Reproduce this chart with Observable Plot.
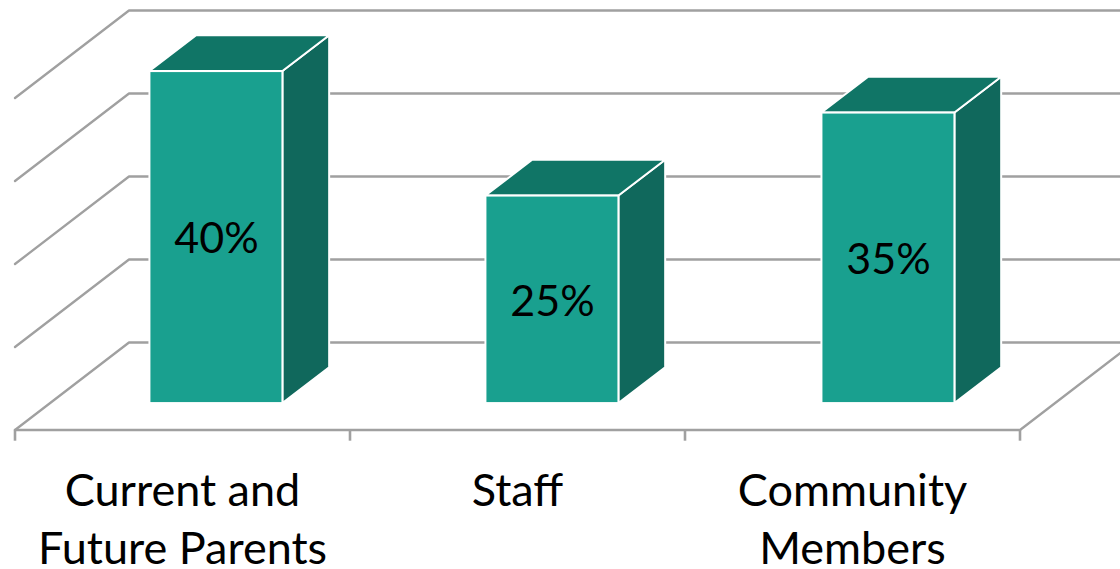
<!DOCTYPE html>
<html>
<head>
<meta charset="utf-8">
<script src="https://cdn.jsdelivr.net/npm/d3@7"></script>
<script src="https://cdn.jsdelivr.net/npm/@observablehq/plot@0.6"></script>
<style>
html,body{margin:0;padding:0;background:#fff;overflow:hidden}
svg{display:block}
</style>
</head>
<body>
<div id="chart"></div>
<script>
const categories = ["Current and\nFuture Parents", "Staff", "Community\nMembers"];
const values = [40, 25, 35];
const valueLabels = ["40%", "25%", "35%"];
const gridLevels = [0, 10, 20, 30, 40];
const categoryEdges = [0, 1, 2, 3];

// oblique projection of the chart box: depth 0 = front, depth 1 = back wall
const depthX = 0.3403, depthY = 10.54;
const barStep = 1.003, barLeft = 0.3, barWidth = 0.397, barFront = 0.302, barDepth = 0.41;
const px = (x, d) => x + d * depthX;
const py = (v, d) => v + d * depthY;

const gridLines = gridLevels.flatMap((v) => [
  {z: v, x: px(0, 0), y: py(v, 0)},
  {z: v, x: px(0, 1), y: py(v, 1)},
  {z: v, x: px(3, 1), y: py(v, 1)}
]);
const floorRight = [
  {x: px(3, 0), y: py(0, 0)},
  {x: px(3, 1), y: py(0, 1)}
];
const bars = values.map((v, i) => ({
  i, v, label: valueLabels[i],
  x1: px(i * barStep + barLeft, barFront),
  x2: px(i * barStep + barLeft + barWidth, barFront),
  y1: py(0, barFront),
  y2: py(v, barFront)
}));
const sides = bars.flatMap((b) => [
  {z: b.i, x: b.x2, y1: b.y1, y2: b.y2},
  {z: b.i, x: b.x2 + barDepth * depthX, y1: b.y1 + barDepth * depthY, y2: b.y2 + barDepth * depthY}
]);
const tops = bars.flatMap((b) => [
  {z: b.i, y: b.y2, x1: b.x1, x2: b.x2},
  {z: b.i, y: b.y2 + barDepth * depthY, x1: b.x1 + barDepth * depthX, x2: b.x2 + barDepth * depthX}
]);

const gray = "#a0a0a0";
const font = "Lato, Carlito, 'Open Sans', sans-serif";

const plot = Plot.plot({
  width: 1120,
  height: 569,
  margin: 0,
  style: {background: "#fff", fontFamily: font, overflow: "hidden"},
  x: {domain: [0, 3], range: [14.5, 1019.5], axis: null},
  y: {domain: [0, 50], range: [429.5, 14.5], axis: null},
  marks: [
    Plot.line(gridLines, {x: "x", y: "y", z: "z", stroke: gray, strokeWidth: 2.3}),
    Plot.line(floorRight, {x: "x", y: "y", stroke: gray, strokeWidth: 2.3}),
    Plot.ruleY([0], {x1: 0, x2: 3, stroke: gray, strokeWidth: 2.3}),
    Plot.ruleX(categoryEdges, {y1: 0, y2: -1.35, stroke: gray, strokeWidth: 2.6}),
    Plot.areaY(sides, {x: "x", y1: "y1", y2: "y2", z: "z", fill: "#10685c", stroke: "#fff", strokeWidth: 2}),
    Plot.areaX(tops, {y: "y", x1: "x1", x2: "x2", z: "z", fill: "#107566", stroke: "#fff", strokeWidth: 2}),
    Plot.rect(bars, {x1: "x1", x2: "x2", y1: "y1", y2: "y2", fill: "#19a08f", stroke: "#fff", strokeWidth: 2}),
    Plot.text(bars, {
      x: (b) => (b.x1 + b.x2) / 2,
      y: (b) => (b.y1 + b.y2) / 2,
      dy: 2,
      text: "label", fontSize: 43, fill: "#000"
    }),
    Plot.text(categories, {
      x: (d, i) => i + 0.5,
      y: -4.2,
      text: (d) => d,
      lineAnchor: "top",
      lineHeight: 1.289,
      fontSize: 45,
      fill: "#000"
    })
  ]
});
document.getElementById("chart").append(plot);
</script>
</body>
</html>
